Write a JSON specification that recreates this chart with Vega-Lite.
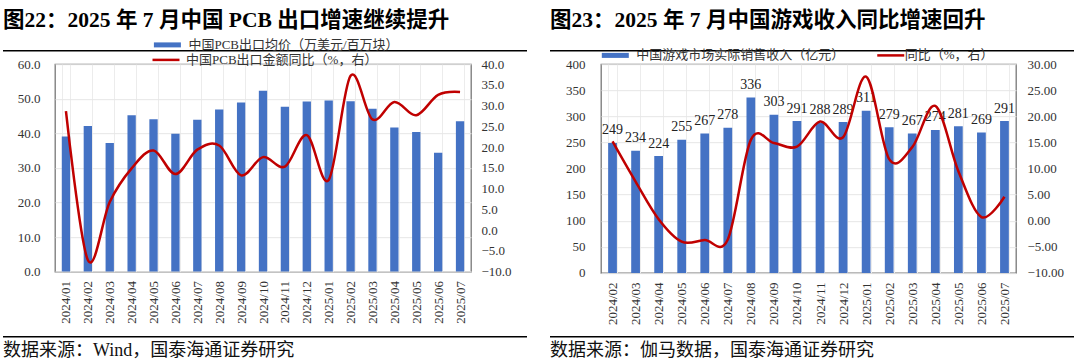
{
  "$schema": "https://vega.github.io/schema/vega-lite/v6.json",
  "background": "white",
  "padding": {"left": 3, "top": 9, "right": 0, "bottom": 0},
  "autosize": {"type": "pad"},
  "config": {
    "font": "Liberation Serif, Noto Sans CJK SC",
    "view": {"stroke": null},
    "axis": {"labelFont": "Liberation Serif", "labelFontSize": 13, "labelColor": "#333", "ticks": false, "domain": false, "gridColor": "#e6e6e6", "gridWidth": 1},
    "legend": {"orient": "none", "title": null, "padding": 0, "offset": 0},
    "title": {"anchor": "start", "frame": "group", "font": "Liberation Serif, Noto Sans CJK SC"}
  },
  "spacing": -14.8,
  "resolve": {"scale": {"x": "independent", "y": "independent", "fill": "independent", "stroke": "independent"}},
  "vconcat": [
    {
      "spacing": 23,
      "hconcat": [
        {
          "width": 524, "height": 1.5,
          "view": {"fill": "#000", "stroke": null},
          "title": {"text": "图22：2025 年 7 月中国 PCB 出口增速继续提升", "orient": "top", "offset": -3, "fontSize": 21.5, "fontWeight": "bold", "color": "#000", "baseline": "bottom"},
          "data": {"values": []},
          "mark": {"type": "rule"},
          "encoding": {}
        },
        {
          "width": 524, "height": 1.5,
          "view": {"fill": "#000", "stroke": null},
          "title": {"text": "图23：2025 年 7 月中国游戏收入同比增速回升", "orient": "top", "offset": -3, "fontSize": 21.5, "fontWeight": "bold", "color": "#000", "baseline": "bottom"},
          "data": {"values": []},
          "mark": {"type": "rule"},
          "encoding": {}
        }
      ]
    },
    {
      "spacing": 3.7,
      "resolve": {"scale": {"x": "independent", "y": "independent", "fill": "independent", "stroke": "independent"}},
      "vconcat": [
        {
          "spacing": 0,
          "resolve": {"scale": {"x": "independent", "y": "independent", "fill": "independent", "stroke": "independent"}},
          "hconcat": [
            {
              "width": 1, "height": 1,
              "data": {"values": []},
              "mark": {"type": "rule"},
              "encoding": {}
            },
            {
              "width": 416, "height": 207.4,
              "view": {"stroke": "#777", "strokeWidth": 1.3},
              "data": {"values": [
                {"m": "2024/01", "v": 39.1, "g": 28.7},
                {"m": "2024/02", "v": 42.1, "g": -7.2},
                {"m": "2024/03", "v": 37.2, "g": 6.8},
                {"m": "2024/04", "v": 45.2, "g": 14.9},
                {"m": "2024/05", "v": 44.1, "g": 19.2},
                {"m": "2024/06", "v": 39.9, "g": 13.5},
                {"m": "2024/07", "v": 43.9, "g": 19.4},
                {"m": "2024/08", "v": 46.9, "g": 20.4},
                {"m": "2024/09", "v": 48.9, "g": 13.2},
                {"m": "2024/10", "v": 52.3, "g": 17.6},
                {"m": "2024/11", "v": 47.7, "g": 15.3},
                {"m": "2024/12", "v": 49.2, "g": 22.9},
                {"m": "2025/01", "v": 49.5, "g": 12.1},
                {"m": "2025/02", "v": 49.3, "g": 37.2},
                {"m": "2025/03", "v": 47.1, "g": 26.7},
                {"m": "2025/04", "v": 41.7, "g": 30.9},
                {"m": "2025/05", "v": 40.4, "g": 27.7},
                {"m": "2025/06", "v": 34.4, "g": 32.6},
                {"m": "2025/07", "v": 43.5, "g": 33.3}
              ]},
              "encoding": {"x": {"field": "m", "type": "ordinal", "sort": null, "scale": {"paddingInner": 0.62, "paddingOuter": 0.31},
                "axis": {"labelAngle": -90, "labelPadding": 9, "tickBand": "extent", "grid": true, "gridColor": "#ececec", "minExtent": 59.5, "title": null}}},
              "layer": [
                {
                  "mark": {"type": "bar"},
                  "encoding": {
                    "y": {"field": "v", "type": "quantitative", "scale": {"domain": [0, 60], "nice": false},
                      "axis": {"values": [0, 10, 20, 30, 40, 50, 60], "format": ".1f", "labelPadding": 15, "minExtent": 50, "grid": true, "title": null}},
                    "fill": {"datum": "中国PCB出口均价（万美元/百万块）", "scale": {"range": ["#4472C4"]},
                      "legend": {"title": null, "padding": 0, "orient": "none", "legendX": 97.4, "legendY": -25.8, "offset": 0, "symbolType": "M-1,-0.5H4.4V0.5H-1Z", "symbolSize": 100, "symbolStrokeWidth": 0, "labelOffset": 23, "labelFont": "Liberation Serif, Noto Sans CJK SC", "labelFontSize": 13, "labelColor": "#333", "labelLimit": 500}}
                  }
                },
                {
                  "mark": {"type": "line", "interpolate": "cardinal", "strokeWidth": 2.5},
                  "encoding": {
                    "y": {"field": "g", "type": "quantitative", "scale": {"domain": [-10, 40], "nice": false},
                      "axis": {"orient": "right", "values": [-10, -5, 0, 5, 10, 15, 20, 25, 30, 35, 40], "format": ".1f", "labelPadding": 10, "minExtent": 81, "grid": false, "title": null}},
                    "stroke": {"datum": "中国PCB出口金额同比（%，右）", "scale": {"range": ["#C00000"]},
                      "legend": {"title": null, "padding": 0, "orient": "none", "legendX": 96, "legendY": -10.8, "offset": 0, "symbolType": "M-1,0H4.4", "symbolSize": 100, "symbolStrokeWidth": 2.5, "labelOffset": 22, "labelFont": "Liberation Serif, Noto Sans CJK SC", "labelFontSize": 13, "labelColor": "#333", "labelLimit": 500}}
                  }
                }
              ],
              "resolve": {"scale": {"y": "independent"}}
            },
            {
              "width": 415, "height": 208.7,
              "view": {"stroke": "#777", "strokeWidth": 1.3},
              "data": {"values": [
                {"m": "2024/02", "v": 249, "g": 15.2},
                {"m": "2024/03", "v": 234, "g": 7.5},
                {"m": "2024/04", "v": 224, "g": 0.3},
                {"m": "2024/05", "v": 255, "g": -4.0},
                {"m": "2024/06", "v": 267, "g": -3.7},
                {"m": "2024/07", "v": 278, "g": -3.6},
                {"m": "2024/08", "v": 336, "g": 15.5},
                {"m": "2024/09", "v": 303, "g": 14.9},
                {"m": "2024/10", "v": 291, "g": 14.2},
                {"m": "2024/11", "v": 288, "g": 19.0},
                {"m": "2024/12", "v": 289, "g": 16.0},
                {"m": "2025/01", "v": 311, "g": 27.6},
                {"m": "2025/02", "v": 279, "g": 11.8},
                {"m": "2025/03", "v": 267, "g": 14.1},
                {"m": "2025/04", "v": 274, "g": 22.0},
                {"m": "2025/05", "v": 281, "g": 9.5},
                {"m": "2025/06", "v": 269, "g": 0.7},
                {"m": "2025/07", "v": 291, "g": 4.6}
              ]},
              "encoding": {"x": {"field": "m", "type": "ordinal", "sort": null, "scale": {"paddingInner": 0.62, "paddingOuter": 0.31},
                "axis": {"labelAngle": -90, "labelPadding": 9, "tickBand": "extent", "grid": true, "gridColor": "#ececec", "minExtent": 58.2, "title": null}}},
              "layer": [
                {
                  "mark": {"type": "bar"},
                  "encoding": {
                    "y": {"field": "v", "type": "quantitative", "scale": {"domain": [0, 400], "nice": false},
                      "axis": {"values": [0, 50, 100, 150, 200, 250, 300, 350, 400], "format": "d", "labelPadding": 16, "minExtent": 47, "grid": true, "title": null}},
                    "fill": {"datum": "中国游戏市场实际销售收入（亿元）", "scale": {"range": ["#4472C4"]},
                      "legend": {"title": null, "padding": 0, "orient": "none", "legendX": -0.7, "legendY": -15.3, "offset": 0, "symbolType": "M-1,-0.5H4.4V0.5H-1Z", "symbolSize": 100, "symbolStrokeWidth": 0, "labelOffset": 23, "labelFont": "Liberation Serif, Noto Sans CJK SC", "labelFontSize": 13, "labelColor": "#333", "labelLimit": 500}}
                  }
                },
                {
                  "mark": {"type": "text", "baseline": "alphabetic", "dy": -8.5, "fontSize": 14, "font": "Liberation Serif", "color": "#222"},
                  "encoding": {
                    "y": {"field": "v", "type": "quantitative", "scale": {"domain": [0, 400], "nice": false}, "axis": null},
                    "text": {"field": "v", "type": "quantitative", "format": "d"}
                  }
                },
                {
                  "mark": {"type": "line", "interpolate": "cardinal", "strokeWidth": 2.5},
                  "encoding": {
                    "y": {"field": "g", "type": "quantitative", "scale": {"domain": [-10, 30], "nice": false},
                      "axis": {"orient": "right", "values": [-10, -5, 0, 5, 10, 15, 20, 25, 30], "format": ".2f", "labelPadding": 11, "grid": false, "title": null}},
                    "stroke": {"datum": "同比（%，右）", "scale": {"range": ["#C00000"]},
                      "legend": {"title": null, "padding": 0, "orient": "none", "legendX": 274.75, "legendY": -15.3, "offset": 0, "symbolType": "M-1,0H4.4", "symbolSize": 100, "symbolStrokeWidth": 2.5, "labelOffset": 16, "labelFont": "Liberation Serif, Noto Sans CJK SC", "labelFontSize": 13, "labelColor": "#333", "labelLimit": 500}}
                  }
                }
              ],
              "resolve": {"scale": {"y": "independent"}}
            }
          ]
        },
        {
          "spacing": 23,
          "hconcat": [
            {
              "width": 524, "height": 1.5,
              "view": {"fill": "#000", "stroke": null},
              "title": {"text": "数据来源：Wind，国泰海通证券研究", "orient": "bottom", "offset": 5, "fontSize": 18, "fontWeight": "normal", "color": "#111", "baseline": "top"},
              "data": {"values": []},
              "mark": {"type": "rule"},
              "encoding": {}
            },
            {
              "width": 524, "height": 1.5,
              "view": {"fill": "#000", "stroke": null},
              "title": {"text": "数据来源：伽马数据，国泰海通证券研究", "orient": "bottom", "offset": 5, "fontSize": 18, "fontWeight": "normal", "color": "#111", "baseline": "top"},
              "data": {"values": []},
              "mark": {"type": "rule"},
              "encoding": {}
            }
          ]
        }
      ]
    }
  ]
}
